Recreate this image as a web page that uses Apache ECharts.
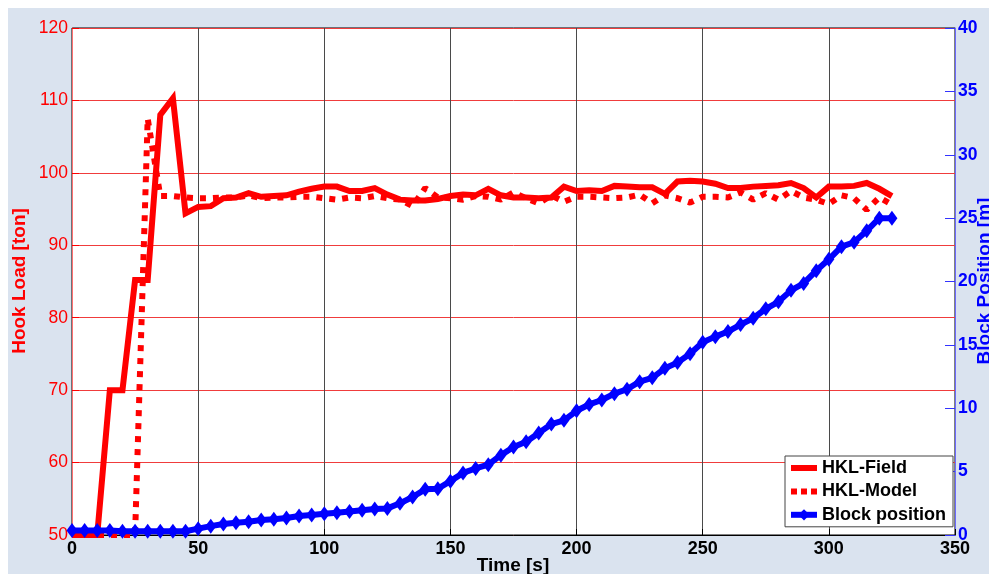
<!DOCTYPE html>
<html>
<head>
<meta charset="utf-8">
<script src="https://cdn.jsdelivr.net/npm/echarts@6/dist/echarts.min.js"></script>
<style>
  html, body { margin: 0; padding: 0; background: #ffffff; }
  #bg { position: absolute; left: 8px; top: 8px; width: 981px; height: 566px; background: #dae3ef; }
  #chart { position: absolute; left: 0; top: 0; width: 989px; height: 574px; }
</style>
</head>
<body>
<div id="bg"></div>
<div id="chart"></div>
<script>
const times = [0,5,10,15,20,25,30,35,40,45,50,55,60,65,70,75,80,85,90,95,100,105,110,115,120,125,130,135,140,145,150,155,160,165,170,175,180,185,190,195,200,205,210,215,220,225,230,235,240,245,250,255,260,265,270,275,280,285,290,295,300,305,310,315,320,325];

const hklField = [50,50,50,70,70,85.2,85.2,108,110.3,94.4,95.3,95.4,96.5,96.6,97.2,96.7,96.8,96.9,97.4,97.8,98.1,98.1,97.5,97.5,97.9,97.0,96.3,96.2,96.2,96.4,96.8,97.0,96.9,97.8,96.9,96.6,96.6,96.5,96.6,98.1,97.5,97.6,97.5,98.2,98.1,98.0,98.0,97.1,98.8,98.9,98.8,98.5,97.9,97.9,98.1,98.2,98.3,98.6,97.9,96.6,98.1,98.1,98.2,98.6,97.8,96.8];

const hklModel = [50,50,50,50,50,50,107.5,96.8,96.8,96.6,96.5,96.5,96.6,96.6,96.9,96.5,96.6,96.6,96.7,96.7,96.5,96.3,96.6,96.5,96.8,96.5,96.3,95.4,97.9,96.6,96.5,96.3,96.8,96.7,96.3,97.3,96.5,95.8,96.9,96.0,96.7,96.7,96.6,96.5,96.6,97.0,95.8,96.9,96.5,95.9,96.7,96.7,96.6,97.3,96.3,97.2,96.3,97.5,96.6,96.3,95.7,96.9,96.5,94.9,96.6,95.6];

const blockPos = [0.35,0.35,0.35,0.35,0.3,0.3,0.3,0.3,0.3,0.3,0.5,0.7,0.87,0.97,1.05,1.18,1.24,1.34,1.5,1.58,1.68,1.75,1.85,1.95,2.05,2.1,2.5,3.0,3.6,3.65,4.25,4.9,5.25,5.55,6.3,6.95,7.35,8.05,8.75,9.05,9.8,10.3,10.65,11.15,11.5,12.1,12.4,13.15,13.6,14.3,15.2,15.65,16.05,16.6,17.1,17.85,18.4,19.3,19.85,20.85,21.75,22.75,23.1,24.0,25.0,25.0];

const seriesNames = ['HKL-Field', 'HKL-Model', 'Block position'];
const xTitle = 'Time [s]';
const yLeftTitle = 'Hook Load [ton]';
const yRightTitle = 'Block Position [m]';

function pairs(vals) { return times.map((t, i) => [t, vals[i]]); }

const FONT = '"Liberation Sans", Arial, Helvetica, sans-serif';
const chart = echarts.init(document.getElementById('chart'), null, { renderer: 'canvas' });

const hidden = { color: 'rgba(0,0,0,0)', opacity: 0, borderWidth: 0 };

chart.setOption({
  animation: false,
  backgroundColor: 'transparent',
  textStyle: { fontFamily: FONT },
  grid: {
    left: 72, right: 34, top: 28, bottom: 39,
    show: true, backgroundColor: '#ffffff', borderColor: '#000000', borderWidth: 1,
    containLabel: false
  },
  xAxis: {
    type: 'value', min: 0, max: 350, interval: 50,
    axisLine: { show: true, lineStyle: { color: '#000000', width: 1 } },
    axisTick: { show: true, inside: true, length: 6, lineStyle: { color: '#000' } },
    axisLabel: { color: '#000000', fontSize: 18, fontWeight: 'bold', fontFamily: FONT, margin: 5 },
    splitLine: { show: true, lineStyle: { color: '#4a4a4a', width: 1 } }
  },
  yAxis: [
    {
      type: 'value', min: 50, max: 120, interval: 10, position: 'left',
      axisLine: { show: true, lineStyle: { color: '#ff7070', width: 1 } },
      axisTick: { show: true, inside: true, length: 7, lineStyle: { color: '#ff0000' } },
      axisLabel: { color: '#ff0000', fontSize: 17.5, fontFamily: FONT, margin: 4 },
      splitLine: { show: true, lineStyle: { color: '#f03c3c', width: 1 } }
    },
    {
      type: 'value', min: 0, max: 40, interval: 5, position: 'right',
      axisLine: { show: true, lineStyle: { color: '#6b6bff', width: 1 } },
      axisTick: { show: true, inside: true, length: 10, lineStyle: { color: '#3333ff' } },
      axisLabel: { color: '#0000ff', fontSize: 17.5, fontWeight: 'bold', fontFamily: FONT, margin: 3 },
      splitLine: { show: false }
    }
  ],
  legend: {
    orient: 'vertical', left: 785, top: 456,
    backgroundColor: '#ffffff', borderColor: '#444444', borderWidth: 1,
    padding: [3, 7, 3, 3], itemGap: 5.4, itemWidth: 26, itemHeight: 14,
    textStyle: { color: '#000000', fontSize: 18, fontWeight: 'bold', fontFamily: FONT, lineHeight: 18 },
    data: [
      { name: seriesNames[0], itemStyle: hidden, lineStyle: { width: 6, color: '#ff0000', type: 'solid' } },
      { name: seriesNames[1], itemStyle: hidden, lineStyle: { width: 6, color: '#ff0000', type: [6, 4], cap: 'butt' } },
      { name: seriesNames[2], lineStyle: { width: 6, color: '#0000ff', type: 'solid' } }
    ]
  },
  graphic: [
    { type: 'text', x: 20, y: 281, rotation: Math.PI / 2, silent: true,
      style: { text: yLeftTitle, fill: '#ff0000', font: 'bold 19px ' + FONT, textAlign: 'center', textVerticalAlign: 'middle' } },
    { type: 'text', x: 985, y: 281, rotation: Math.PI / 2, silent: true,
      style: { text: yRightTitle, fill: '#0000ff', font: 'bold 19px ' + FONT, textAlign: 'center', textVerticalAlign: 'middle' } },
    { type: 'text', x: 513, y: 566, silent: true,
      style: { text: xTitle, fill: '#000000', font: 'bold 19px ' + FONT, textAlign: 'center', textVerticalAlign: 'middle' } }
  ],
  series: [
    {
      name: seriesNames[0], type: 'line', yAxisIndex: 0, data: pairs(hklField),
      showSymbol: false, symbol: 'none',
      lineStyle: { color: '#ff0000', width: 6, join: 'miter' },
      itemStyle: { color: '#ff0000' }, z: 2
    },
    {
      name: seriesNames[1], type: 'line', yAxisIndex: 0, data: pairs(hklModel),
      showSymbol: false, symbol: 'none',
      lineStyle: { color: '#ff0000', width: 6, type: [6, 7], cap: 'butt' },
      itemStyle: { color: '#ff0000' }, z: 3
    },
    {
      name: seriesNames[2], type: 'line', yAxisIndex: 1, data: pairs(blockPos),
      symbol: 'diamond', symbolSize: [11, 15], showSymbol: true,
      lineStyle: { color: '#0000ff', width: 6 },
      itemStyle: { color: '#0000ff', borderWidth: 0 }, z: 4
    }
  ]
});
</script>
</body>
</html>
